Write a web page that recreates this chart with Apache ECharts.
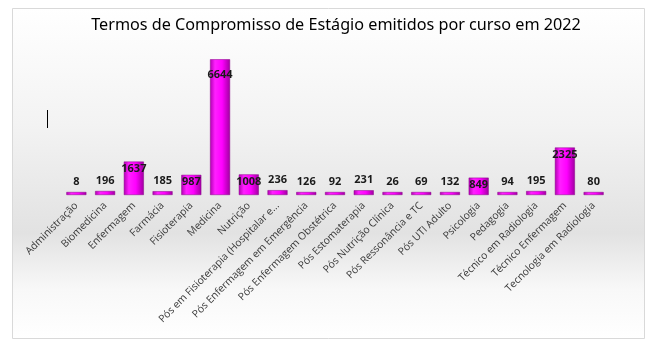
<!DOCTYPE html>
<html><head><meta charset="utf-8">
<script src="https://cdn.jsdelivr.net/npm/echarts@6/dist/echarts.min.js"></script>
<style>html,body{margin:0;padding:0;background:#fff}#c{width:655px;height:349px}</style>
</head><body><div id="c"></div>
<script>
const title = 'Termos de Compromisso de Estágio emitidos por curso em 2022';
const categories = ['Administração','Biomedicina','Enfermagem','Farmácia','Fisioterapia','Medicina','Nutrição','Pós em Fisioterapia (Hospitalar e...','Pós Enfermagem em Emergência','Pós Enfermagem Obstétrica','Pós Estomaterapia','Pós Nutrição Clínica','Pós Ressonância e TC','Pós UTI Adulto','Psicologia','Pedagogia','Técnico em Radiologia','Técnico Enfermagem','Tecnologia em Radiologia'];
const values = [8,196,1637,185,987,6644,1008,236,126,92,231,26,69,132,849,94,195,2325,80];

const chart = echarts.init(document.getElementById('c'), null, {renderer:'canvas'});
const barColor = new echarts.graphic.LinearGradient(0,0,1,0,[
  {offset:0,color:'#b000b0'},{offset:0.25,color:'#ff20ff'},{offset:0.6,color:'#ff00ff'},{offset:1,color:'#a000a0'}]);
chart.setOption({
  animation:false,
  graphic:[
    {type:'rect',shape:{x:12.5,y:8.5,width:632,height:330},z:-10,
     style:{fill:new echarts.graphic.LinearGradient(0,0,0,1,[{offset:0,color:'#ffffff'},{offset:0.35,color:'#f3f3f3'},{offset:0.68,color:'#e2e2e2'},{offset:0.85,color:'#f8f8f8'},{offset:1,color:'#ffffff'}]),stroke:'#d9d9d9',lineWidth:1}},
    {type:'line',shape:{x1:47.5,y1:110,x2:47.5,y2:128},style:{stroke:'#000',lineWidth:1}}
  ],
  title:{text:title,left:331,textAlign:'center',top:12,textStyle:{fontFamily:'Noto Sans',fontSize:16.2,fontWeight:'normal',color:'#000'}},
  grid:{left:62,right:47,top:52,bottom:154,containLabel:false},
  xAxis:{type:'category',data:categories,axisLine:{show:false},axisTick:{show:false},
    axisLabel:{interval:0,rotate:45,fontFamily:'Open Sans',fontSize:10.3,color:'#3a3a3a',margin:9}},
  yAxis:{type:'value',min:0,max:7000,show:false},
  series:[{type:'bar',data:values.map(v=>({value:v,label:{position:v>800?'insideTop':'top',distance:v>800?(v>6000?10:2):5}})),
    barWidth:20,barMinHeight:3,
    itemStyle:{color:barColor,borderColor:'#8a008a',borderWidth:0.5},
    label:{show:true,fontFamily:'Open Sans',fontWeight:'bold',fontSize:11,color:'#1a1a1a'}}]
});
</script></body></html>
